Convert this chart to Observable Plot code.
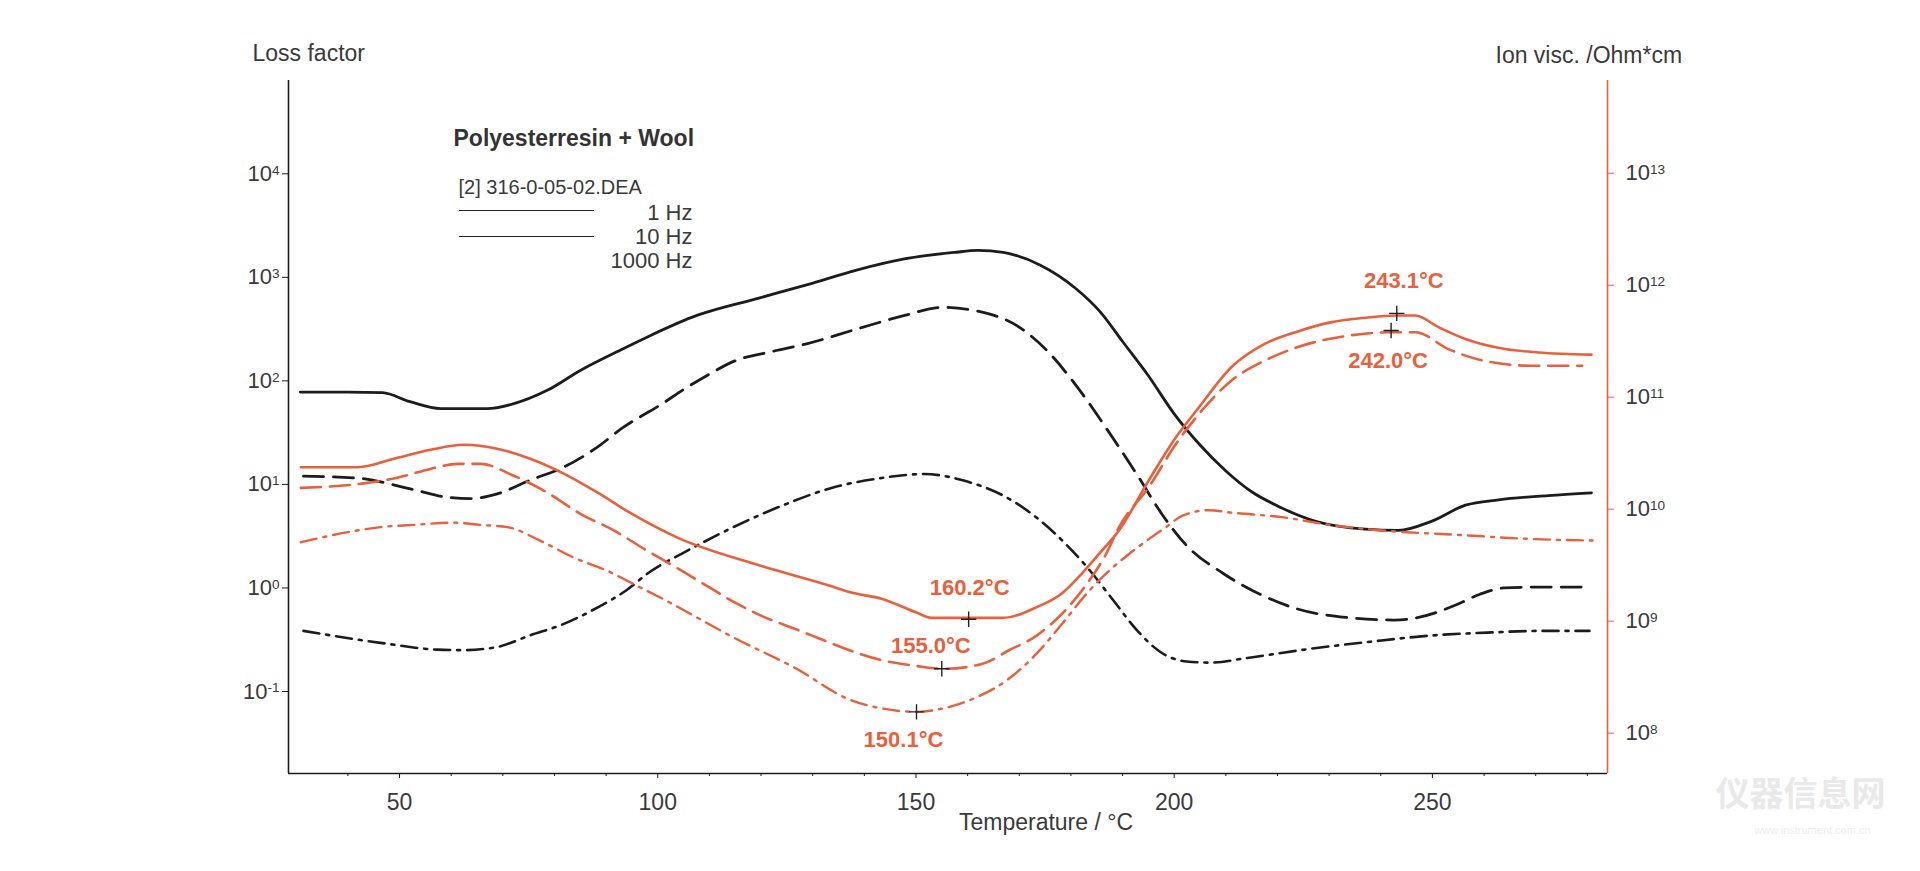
<!DOCTYPE html>
<html>
<head>
<meta charset="utf-8">
<script src="https://cdn.jsdelivr.net/npm/d3@7"></script>
<script src="https://cdn.jsdelivr.net/npm/@observablehq/plot@0.6"></script>
<style>
html, body { margin: 0; padding: 0; background: #ffffff; }
#chart { position: relative; width: 1920px; height: 871px; overflow: hidden; }
.legline { position: absolute; height: 0; border-top: 1.5px solid #222; }
</style>
</head>
<body>
<div id="chart"></div>
<script>
// ---------------- DATA ----------------
// Loss factor (left axis), temperatures in °C
const lf1T = [30.8, 40, 46.7, 52, 58, 63, 67, 72, 78.6, 85, 93.3, 98.3, 107.7, 119.6, 129, 138.5, 148, 157.4, 162, 166.9, 174, 181, 185.8, 190, 195, 200, 205, 210, 215, 220, 227.4, 237, 243.4, 249.8, 256.4, 262.8, 272.4, 280.8];
const lf1 = [78, 78, 77, 63, 54, 54, 54, 60, 81, 126, 204, 270, 431, 631, 851, 1175, 1514, 1738, 1820, 1738, 1318, 776, 457, 240, 112, 48, 24, 13.5, 8.5, 6.2, 4.4, 3.7, 3.6, 4.4, 6.3, 7.1, 7.8, 8.3];

const lf10T = [31.4, 41.9, 52.7, 59.3, 63.7, 68.9, 75.3, 81.7, 88.3, 93.3, 100.6, 105.4, 110.1, 114.8, 121.9, 129, 138.5, 148, 155.1, 162.2, 169.3, 175.2, 181.1, 187, 192.9, 197.7, 202.4, 209.5, 216.6, 223.7, 233.2, 242.6, 247.3, 254.4, 259.2, 263.9, 271, 280.4];
const lf10 = [12.0, 11.5, 8.9, 7.5, 7.3, 8.1, 11.0, 14.6, 22.9, 35.5, 59, 85, 117, 155, 191, 229, 316, 431, 513, 468, 347, 200, 89, 34, 12.2, 5.1, 2.57, 1.38, 0.87, 0.63, 0.52, 0.49, 0.52, 0.68, 0.87, 1.0, 1.02, 1.02];

const lf1000T = [31.4, 46.3, 57.3, 62.4, 68.9, 75.3, 81.7, 88.3, 94, 98.3, 105.4, 114.8, 124.3, 133.8, 143.2, 151.5, 159.8, 166.9, 174, 178.7, 183.5, 188.2, 192.9, 197.7, 202.4, 207.1, 214.2, 226, 237.9, 249.7, 261.5, 271, 280.4];
const lf1000 = [0.385, 0.295, 0.254, 0.251, 0.269, 0.349, 0.447, 0.646, 0.955, 1.41, 2.24, 3.9, 6.3, 9.3, 11.5, 12.6, 10.7, 7.8, 4.5, 2.75, 1.51, 0.76, 0.385, 0.234, 0.195, 0.19, 0.211, 0.257, 0.302, 0.347, 0.372, 0.385, 0.385];

// Ion viscosity / Ohm*cm (right axis)
const iv1T = [30.9, 41.9, 49.6, 56, 62.4, 68.9, 75.3, 81.7, 88.3, 94.6, 103.7, 119.6, 133.8, 137.1, 143.5, 150, 153, 160.2, 166.7, 173.3, 178.3, 182.2, 186, 189.3, 195.1, 200.3, 204.8, 211.1, 217.7, 224.1, 230.5, 237.1, 242.9, 246.7, 251.2, 256.4, 264.1, 270.5, 280.8];
const iv1 = [2.37e10, 2.37e10, 2.88e10, 3.39e10, 3.76e10, 3.47e10, 2.82e10, 2.09e10, 1.41e10, 9.3e9, 5.6e9, 3.16e9, 2.04e9, 1.82e9, 1.58e9, 1.20e9, 1.07e9, 1.07e9, 1.07e9, 1.33e9, 1.78e9, 2.69e9, 4.27e9, 6.46e9, 1.82e10, 4.37e10, 8.13e10, 1.86e11, 3.02e11, 3.89e11, 4.68e11, 5.13e11, 5.37e11, 5.37e11, 4.22e11, 3.31e11, 2.69e11, 2.51e11, 2.40e11];

const iv10T = [30.9, 43, 49.6, 56, 61.2, 65.7, 72, 78.6, 85, 91.4, 97.9, 104.3, 110, 114.8, 120, 126.7, 132, 137.1, 143.5, 150.1, 155.5, 162.9, 168, 173.3, 178.3, 183.5, 186.8, 189.3, 195.1, 200.3, 204.8, 211.1, 217.7, 224.1, 233.8, 241.5, 246.7, 253.1, 259.5, 269.2, 279];
const iv10 = [1.55e10, 1.70e10, 1.91e10, 2.29e10, 2.54e10, 2.54e10, 2.0e10, 1.41e10, 9.1e9, 6.5e9, 4.27e9, 2.88e9, 2.0e9, 1.48e9, 1.12e9, 8.5e8, 6.8e8, 5.5e8, 4.47e8, 3.98e8, 3.76e8, 4.17e8, 5.5e8, 7.4e8, 1.17e9, 2.29e9, 3.98e9, 6.9e9, 1.58e10, 3.8e10, 7.1e10, 1.41e11, 2.14e11, 2.82e11, 3.55e11, 3.80e11, 3.80e11, 2.69e11, 2.14e11, 1.91e11, 1.91e11];

const iv1000T = [30.9, 40, 46.3, 52.7, 60.4, 65.7, 70.9, 77.2, 83.6, 90.2, 96.6, 101, 114.8, 126.7, 137.1, 143.5, 150.3, 155.1, 161.7, 167.5, 173.3, 178.3, 183.5, 187.4, 191.8, 198.4, 201.5, 206.7, 211.2, 220.8, 230.5, 240.2, 255, 270, 281];
const iv1000 = [5.07e9, 6.24e9, 6.92e9, 7.24e9, 7.59e9, 7.24e9, 6.92e9, 5.25e9, 3.72e9, 2.82e9, 2.0e9, 1.58e9, 7.1e8, 3.8e8, 2.0e8, 1.66e8, 1.55e8, 1.66e8, 2.09e8, 2.95e8, 5.1e8, 9.5e8, 1.86e9, 2.82e9, 4.17e9, 6.92e9, 8.7e9, 9.8e9, 9.3e9, 8.5e9, 7.2e9, 6.46e9, 5.9e9, 5.4e9, 5.25e9];

// Marked extrema of the ion viscosity curves
const peakT = [160.2, 155.0, 150.1, 243.1, 242.0];
const peakIV = [1.04e9, 3.76e8, 1.55e8, 5.6e11, 3.94e11];
const peakLabels = ["160.2°C", "155.0°C", "150.1°C", "243.1°C", "242.0°C"];

// Axis ticks and texts
const xMajorTicks = [50, 100, 150, 200, 250];
const xMinorTicks = [40, 60, 70, 80, 90, 110, 120, 130, 140, 160, 170, 180, 190, 210, 220, 230, 240, 260, 270, 280];
const leftExponents = [-1, 0, 1, 2, 3, 4];
const rightExponents = [8, 9, 10, 11, 12, 13];
const frequencies = ["1 Hz", "10 Hz", "1000 Hz"];
const titleText = "Polyesterresin + Wool";
const fileText = "[2] 316-0-05-02.DEA";
const leftAxisTitle = "Loss factor";
const rightAxisTitle = "Ion visc. /Ohm*cm";
const xAxisTitle = "Temperature / °C";

// ---------------- SCALES / STYLE ----------------
const FONT = "'Liberation Sans', Arial, Helvetica, sans-serif";
const BLACK = "#1c1c1c";
const ORANGE = "#e8603c";
const TEXT = "#3a3a3a";
const X_DOMAIN = [28.5, 283.9];
const LEFT_LOG = [-1.792, 4.901];   // log10 range of left axis (bottom..top)
const RIGHT_LOG = [7.640, 13.828];  // log10 range of right axis (bottom..top)
const k = (LEFT_LOG[1] - LEFT_LOG[0]) / (RIGHT_LOG[1] - RIGHT_LOG[0]);
// the y scale is linear in decades of the left axis; right-axis decades are mapped onto it
const leftPos = v => Math.log10(v);
const rightPos = v => LEFT_LOG[0] + (Math.log10(v) - RIGHT_LOG[0]) * k;
const rightExpAt = y => RIGHT_LOG[0] + (y - LEFT_LOG[0]) / k;

const rows = (T, V, pos) => T.map((t, i) => ({t, y: pos(V[i])}));

const seriesDefs = [
  {data: rows(lf1T, lf1, leftPos), stroke: BLACK, dash: null, w: 2.8},
  {data: rows(lf10T, lf10, leftPos), stroke: BLACK, dash: "20,10", w: 2.8},
  {data: rows(lf1000T, lf1000, leftPos), stroke: BLACK, dash: "16,7,3,7", w: 2.6},
  {data: rows(iv1T, iv1, rightPos), stroke: ORANGE, dash: null, w: 2.6},
  {data: rows(iv10T, iv10, rightPos), stroke: ORANGE, dash: "20,9", w: 2.6},
  {data: rows(iv1000T, iv1000, rightPos), stroke: ORANGE, dash: "16,7,3,7", w: 2.4}
];

const peaks = peakT.map((t, i) => ({t, y: rightPos(peakIV[i]), label: peakLabels[i]}));
const labelOffsets = [[1, -31], [-11, -23], [-13, 28], [7, -32], [-3, 30]];

const marks = [];
// axis lines
marks.push(Plot.ruleX([X_DOMAIN[0]], {stroke: BLACK, strokeWidth: 1.6}));
marks.push(Plot.ruleY([LEFT_LOG[0]], {stroke: BLACK, strokeWidth: 1.6}));
marks.push(Plot.ruleX([X_DOMAIN[1]], {stroke: ORANGE, strokeWidth: 1.6}));

// axes
marks.push(Plot.axisX(xMinorTicks, {tickSize: 3, tickFormat: () => "", label: null, stroke: BLACK}));
marks.push(Plot.axisX(xMajorTicks, {tickSize: 5, tickPadding: 15, label: null, stroke: BLACK, fill: TEXT, fontSize: 23, tickFormat: d => String(d)}));
marks.push(Plot.axisY(leftExponents, {anchor: "left", tickSize: 6, tickPadding: 3, label: null, stroke: BLACK, fill: TEXT, fontSize: 22, tickFormat: e => "10^" + e}));
marks.push(Plot.axisY(rightExponents.map(e => rightPos(10 ** e)), {anchor: "right", tickSize: 6, tickPadding: 12, label: null, stroke: ORANGE, fill: TEXT, fontSize: 22, tickFormat: y => "10^" + Math.round(rightExpAt(y))}));

// curves
for (const s of seriesDefs) {
  marks.push(Plot.line(s.data, {x: "t", y: "y", stroke: s.stroke, strokeWidth: s.w, strokeDasharray: s.dash, curve: "monotone-x"}));
}

// peak markers and labels
marks.push(Plot.dot(peaks, {x: "t", y: "y", symbol: "plus", r: 5, stroke: "#222", strokeWidth: 1.4}));
peaks.forEach((p, i) => {
  marks.push(Plot.text([p], {x: "t", y: "y", text: "label", dx: labelOffsets[i][0], dy: labelOffsets[i][1], fill: ORANGE, fontWeight: "bold", fontSize: 22, textAnchor: "middle", lineAnchor: "middle"}));
});

// titles and legend texts
marks.push(Plot.text([leftAxisTitle], {frameAnchor: "top-left", dx: -36, dy: -27, textAnchor: "start", lineAnchor: "middle", fill: TEXT, fontSize: 23}));
marks.push(Plot.text([rightAxisTitle], {frameAnchor: "top-right", dx: -112, dy: -25, textAnchor: "start", lineAnchor: "middle", fill: TEXT, fontSize: 23}));
marks.push(Plot.text([xAxisTitle], {frameAnchor: "bottom", dx: 98, dy: 49, textAnchor: "middle", lineAnchor: "middle", fill: TEXT, fontSize: 23}));
marks.push(Plot.text([titleText], {frameAnchor: "top-left", dx: 165, dy: 58, textAnchor: "start", lineAnchor: "middle", fill: "#333", fontSize: 23, fontWeight: "bold"}));
marks.push(Plot.text([fileText], {frameAnchor: "top-left", dx: 170, dy: 107, textAnchor: "start", lineAnchor: "middle", fill: TEXT, fontSize: 20}));
frequencies.forEach((f, i) => {
  marks.push(Plot.text([f], {frameAnchor: "top-left", dx: 404, dy: 132 + i * 24, textAnchor: "end", lineAnchor: "middle", fill: TEXT, fontSize: 22}));
});
// watermark
marks.push(Plot.text(["仪器信息网"], {frameAnchor: "bottom-right", dx: 193, dy: 22, textAnchor: "middle", lineAnchor: "middle", fill: "#e9e9e9", fontSize: 34, fontWeight: "bold", fontFamily: "'Noto Sans CJK SC', sans-serif"}));
marks.push(Plot.text(["www.instrument.com.cn"], {frameAnchor: "bottom-right", dx: 205, dy: 57, textAnchor: "middle", lineAnchor: "middle", fill: "#ececec", fontSize: 11}));

const chart = Plot.plot({
  width: 1920,
  height: 871,
  marginLeft: 288,
  marginRight: 313,
  marginTop: 80,
  marginBottom: 98,
  x: {domain: X_DOMAIN, axis: null, label: null},
  y: {domain: LEFT_LOG, axis: null, label: null},
  style: {fontFamily: FONT, fontSize: "21px", color: TEXT, background: "#ffffff", overflow: "visible"},
  marks
});

// turn "10^n" tick labels into 10 with a raised exponent
d3.select(chart).selectAll("text").each(function () {
  const m = /^10\^(-?\d+)$/.exec(this.textContent);
  if (!m) return;
  const sel = d3.select(this);
  sel.text("10");
  sel.append("tspan").attr("dy", "-0.45em").attr("font-size", "0.62em").text(m[1]);
});

const host = document.getElementById("chart");
host.appendChild(chart);
// legend line samples (1 Hz, 10 Hz)
[210, 236].forEach(top => {
  const d = document.createElement("div");
  d.className = "legline";
  d.style.left = "459px";
  d.style.top = top + "px";
  d.style.width = "135px";
  host.appendChild(d);
});
</script>
</body>
</html>
